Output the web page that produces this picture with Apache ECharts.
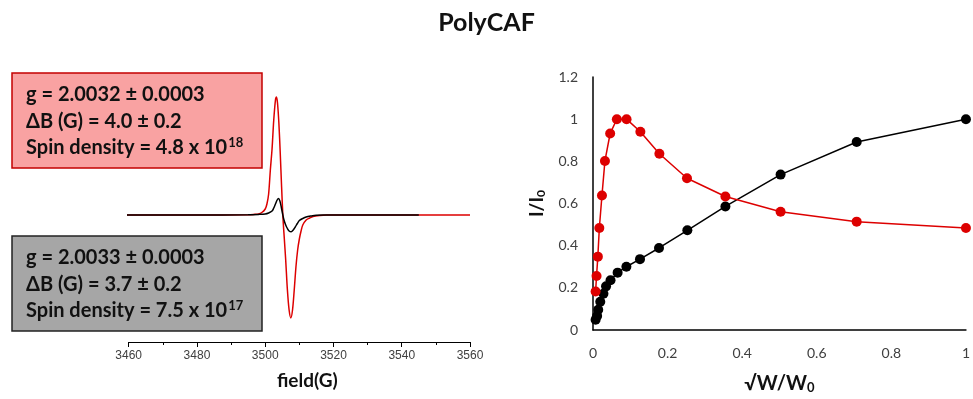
<!DOCTYPE html>
<html><head><meta charset="utf-8">
<script src="https://cdn.jsdelivr.net/npm/echarts@6/dist/echarts.min.js"></script>
<style>html,body{margin:0;padding:0;background:#fff}#c{width:973px;height:399px}</style>
</head><body><div id="c"></div>
<script>
// EPR spectrum (left panel), signal in arbitrary units
const redField = [3459.5, 3480, 3495, 3497, 3498, 3499, 3500, 3500.5, 3501, 3501.5, 3502, 3502.5, 3503, 3503.3, 3503.6, 3504, 3504.4, 3504.8, 3505.2, 3505.6, 3506, 3506.5, 3507, 3507.5, 3508, 3508.5, 3509, 3509.5, 3510, 3510.5, 3511, 3512, 3513, 3514, 3516, 3518, 3530, 3560];
const redSignal = [0, 0, 0.3, 0.7, 1, 2.5, 6, 11, 21, 45, 66, 95, 115, 118, 112, 92, 62, 28, -3, -24, -45, -75, -95, -103, -95, -75, -52, -35, -24, -16, -10, -5, -3, -1.5, -0.5, 0, 0, 0];
const blackField = [3459.5, 3480, 3495, 3498, 3500, 3501, 3502, 3502.5, 3503, 3503.5, 3503.9, 3504.3, 3504.7, 3505.1, 3505.5, 3506, 3506.5, 3507, 3507.6, 3508.2, 3508.8, 3509.4, 3510, 3511, 3512, 3513.5, 3515, 3517, 3530, 3545];
const blackSignal = [0, 0, 0.3, 0.6, 1, 2, 4, 7, 11, 15, 16.5, 14, 8, 1, -5, -10, -13.5, -16, -16.7, -15, -12, -8.5, -5.5, -3.5, -2, -1, -0.3, 0, 0, 0];
const fieldTicks = [3460, 3480, 3500, 3520, 3540, 3560];

// Power saturation (right panel)
const redX = [0.007, 0.0095, 0.013, 0.017, 0.024, 0.032, 0.046, 0.064, 0.09, 0.127, 0.178, 0.252, 0.355, 0.503, 0.707, 1.0];
const redY = [0.183, 0.256, 0.348, 0.484, 0.638, 0.802, 0.932, 1.0, 1.0, 0.94, 0.836, 0.72, 0.633, 0.561, 0.514, 0.484];
const blackX = [0.007, 0.011, 0.014, 0.0195, 0.028, 0.035, 0.047, 0.066, 0.0895, 0.126, 0.177, 0.253, 0.355, 0.503, 0.707, 1.0];
const blackY = [0.049, 0.066, 0.096, 0.134, 0.172, 0.207, 0.236, 0.272, 0.30, 0.336, 0.389, 0.473, 0.586, 0.737, 0.892, 1.0];

// Annotation texts
const redBoxLines = ['g = 2.0032 ± 0.0003', 'ΔB (G) = 4.0 ± 0.2', 'Spin density = 4.8 x 10', '18'];
const grayBoxLines = ['g = 2.0033 ± 0.0003', 'ΔB (G) = 3.7 ± 0.2', 'Spin density = 7.5 x 10', '17'];

const zip = (a, b) => a.map((v, i) => [v, b[i]]);
const FONT = 'Lato, "Open Sans", sans-serif';

function boxElements(top, fill, stroke, lines) {
  const rich = {
    t: {fontSize: 20, fontWeight: 'bold', fontFamily: FONT, fill: '#111', lineHeight: 24},
    s: {fontSize: 13, fontWeight: 'bold', fontFamily: FONT, fill: '#111', verticalAlign: 'top', lineHeight: 24, padding: [0, 0, 0, 1]}
  };
  return [
    {type: 'rect', shape: {x: 12, y: top, width: 250, height: 95}, style: {fill: fill, stroke: stroke, lineWidth: 1.5}},
    {type: 'text', style: {x: 26, y: top + 22, text: lines[0], font: 'bold 20px ' + FONT, fill: '#111', verticalAlign: 'middle'}},
    {type: 'text', style: {x: 26, y: top + 48.5, text: lines[1], font: 'bold 20px ' + FONT, fill: '#111', verticalAlign: 'middle'}},
    {type: 'text', style: {x: 26, y: top + 75, text: '{t|' + lines[2] + '}{s|' + lines[3] + '}', rich: rich, verticalAlign: 'middle'}}
  ];
}

const chart = echarts.init(document.getElementById('c'), null, {renderer: 'canvas'});
chart.setOption({
  backgroundColor: '#fff',
  animation: false,
  title: {text: 'PolyCAF', left: 'center', top: 5, textStyle: {fontFamily: FONT, fontWeight: 'bold', fontSize: 25, color: '#111'}},
  grid: [
    {left: 128.7, right: 503, top: 80, bottom: 57},
    {left: 593, right: 5, top: 77, bottom: 60}
  ],
  xAxis: [
    {gridIndex: 0, type: 'value', min: 3460, max: 3560, interval: 20,
     name: 'field(G)', nameLocation: 'middle', nameGap: 29,
     nameTextStyle: {fontFamily: FONT, fontWeight: 'bold', fontSize: 19, color: '#111', padding: [0, 0, 0, 16]},
     axisLine: {onZero: false, lineStyle: {color: '#000', width: 1}},
     axisTick: {show: true, length: 5, lineStyle: {color: '#000'}},
     minorTick: {show: true, splitNumber: 2, length: 3, lineStyle: {color: '#000'}},
     splitLine: {show: false},
     axisLabel: {margin: 8, fontFamily: '"Liberation Sans", Arial, sans-serif', fontSize: 12, color: '#404040',
       formatter: v => fieldTicks.includes(v) ? String(v) : ''}},
    {gridIndex: 1, type: 'value', min: 0, max: 1, interval: 0.2,
     name: '√W/W{sub|0}', nameLocation: 'middle', nameGap: 43,
     nameTextStyle: {fontFamily: FONT, fontWeight: 'bold', fontSize: 20, color: '#111',
       rich: {sub: {fontFamily: FONT, fontWeight: 'bold', fontSize: 13, color: '#111', verticalAlign: 'bottom', padding: [8, 0, 0, 0]}}},
     axisLine: {onZero: false, lineStyle: {color: '#000', width: 1.5}},
     axisTick: {show: false},
     splitLine: {show: false},
     axisLabel: {margin: 16, fontFamily: FONT, fontSize: 14, color: '#404040'}}
  ],
  yAxis: [
    {gridIndex: 0, type: 'value', min: -127, max: 135, show: false, splitLine: {show: false}},
    {gridIndex: 1, type: 'value', min: 0, max: 1.2, interval: 0.2,
     name: 'I/I{sub|0}', nameLocation: 'middle', nameGap: 46, nameRotate: 90,
     nameTextStyle: {fontFamily: FONT, fontWeight: 'bold', fontSize: 19, color: '#111',
       rich: {sub: {fontFamily: FONT, fontWeight: 'bold', fontSize: 12, color: '#111', verticalAlign: 'bottom', padding: [8, 0, 0, 0]}}},
     axisLine: {show: true, onZero: false, lineStyle: {color: '#000', width: 1.5}},
     axisTick: {show: false},
     splitLine: {show: false},
     axisLabel: {margin: 15, fontFamily: FONT, fontSize: 14, color: '#404040'}}
  ],
  series: [
    {type: 'line', xAxisIndex: 0, yAxisIndex: 0, data: zip(redField, redSignal), showSymbol: false, smooth: 0.3,
     lineStyle: {color: '#dd0000', width: 1.5}, itemStyle: {color: '#dd0000'}, z: 2},
    {type: 'line', xAxisIndex: 0, yAxisIndex: 0, data: zip(blackField, blackSignal), showSymbol: false, smooth: 0.3,
     lineStyle: {color: '#000', width: 1.5}, itemStyle: {color: '#000'}, z: 3},
    {type: 'line', xAxisIndex: 1, yAxisIndex: 1, data: zip(blackX, blackY), symbol: 'circle', symbolSize: 10, clip: false,
     lineStyle: {color: '#000', width: 1.5}, itemStyle: {color: '#000'}, z: 2},
    {type: 'line', xAxisIndex: 1, yAxisIndex: 1, data: zip(redX, redY), symbol: 'circle', symbolSize: 10, clip: false,
     lineStyle: {color: '#dd0000', width: 1.5}, itemStyle: {color: '#dd0000'}, z: 3}
  ],
  graphic: [].concat(
    boxElements(73, '#f9a2a2', '#c40000', redBoxLines),
    boxElements(236, '#a6a6a6', '#222', grayBoxLines)
  )
});
</script>
</body></html>
